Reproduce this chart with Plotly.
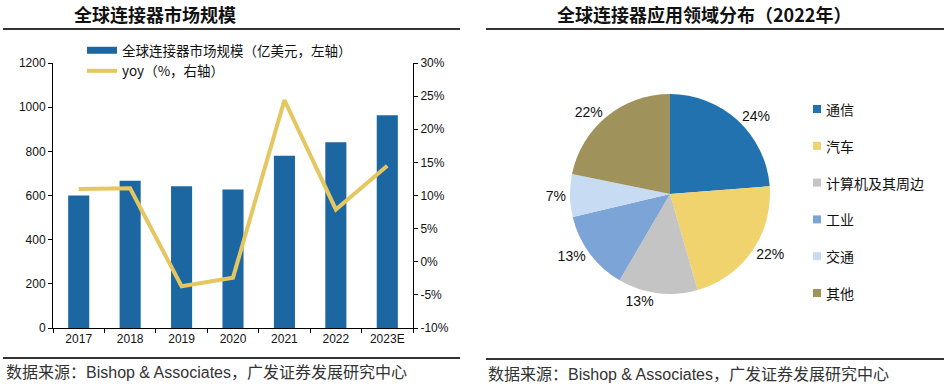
import plotly.graph_objects as go

# ---- data ----
years = ["2017", "2018", "2019", "2020", "2021", "2022", "2023E"]
market_size = [600, 667, 642, 627, 780, 841, 963]          # 亿美元
yoy = [11.0, 11.1, -3.7, -2.4, 24.4, 7.9, 14.5]             # %
left_ticks = [0, 200, 400, 600, 800, 1000, 1200]
right_ticks = [-10, -5, 0, 5, 10, 15, 20, 25, 30]
right_tick_text = ["-10%", "-5%", "0%", "5%", "10%", "15%", "20%", "25%", "30%"]

pie_labels = ["通信", "汽车", "计算机及其周边", "工业", "交通", "其他"]
pie_values = [24, 22, 13, 13, 7, 22]
pie_colors = ["#2172AF", "#F0D36C", "#C4C4C4", "#7DA4D6", "#C7DCF3", "#A0925B"]

left_title = "全球连接器市场规模"
right_title = "全球连接器应用领域分布（2022年）"
source = "数据来源：Bishop & Associates，广发证券发展研究中心"
bar_name = "全球连接器市场规模（亿美元，左轴）"
line_name = "yoy（%，右轴）"

BAR_C = "#1C67A2"
LINE_C = "#E5C761"
FONT = "Liberation Sans, Arial, Noto Sans CJK SC, sans-serif"
CJK = "Noto Sans CJK SC, Liberation Sans, sans-serif"

W, H = 945, 384
def px_x(x): return x / W
def px_y(y): return 1 - y / H

fig = go.Figure()

fig.add_trace(go.Bar(x=years, y=market_size, marker_color=BAR_C, marker_line_width=0,
                     showlegend=False, xaxis="x", yaxis="y"))
fig.add_trace(go.Scatter(x=years, y=yoy, mode="lines", line=dict(color=LINE_C, width=4),
                         showlegend=False, xaxis="x", yaxis="y2"))
# legend entries
fig.add_trace(go.Scatter(x=[None], y=[None], mode="lines", name=bar_name,
                         line=dict(color=BAR_C, width=7), xaxis="x", yaxis="y"))
fig.add_trace(go.Scatter(x=[None], y=[None], mode="lines", name=line_name,
                         line=dict(color=LINE_C, width=4), xaxis="x", yaxis="y2"))

fig.add_trace(go.Pie(labels=pie_labels, values=pie_values, sort=False, direction="clockwise",
                     rotation=0, marker=dict(colors=pie_colors, line=dict(width=0)),
                     texttemplate="%{value}%", textposition="outside",
                     textfont=dict(size=14, color="#111", family=FONT),
                     showlegend=False, hoverinfo="skip", automargin=False,
                     domain=dict(x=[px_x(570), px_x(770)], y=[px_y(294), px_y(94)])))

fig.update_layout(
    width=W, height=H, margin=dict(l=0, r=0, t=0, b=0, autoexpand=False),
    paper_bgcolor="white", plot_bgcolor="white",
    font=dict(family=FONT, size=12, color="#111"),
    bargap=0.59,
    xaxis=dict(domain=[px_x(53), px_x(413)], type="category", showline=True, linecolor="#000",
               linewidth=1, ticks="outside", tickson="boundaries", ticklen=4, tickcolor="#000",
               showgrid=False, tickfont=dict(size=12), anchor="y", automargin=False),
    yaxis=dict(domain=[px_y(328), px_y(63)], range=[0, 1200], tickvals=left_ticks,
               showline=True, linecolor="#000", linewidth=1, ticks="outside", ticklen=4,
               tickcolor="#000", showgrid=False, zeroline=False, tickfont=dict(size=12),
               automargin=False),
    yaxis2=dict(overlaying="y", side="right", range=[-10, 30], tickvals=right_ticks,
                ticktext=right_tick_text, tickmode="array",
                showline=True, linecolor="#000", linewidth=1, ticks="outside",
                ticklen=4, tickcolor="#000", showgrid=False, zeroline=False,
                tickfont=dict(size=12), anchor="x", automargin=False),
    legend=dict(x=px_x(82), y=px_y(35), xanchor="left", yanchor="top",
                bgcolor="rgba(0,0,0,0)", font=dict(family=CJK, size=13.5, color="#111"),
                tracegroupgap=0, itemwidth=30),
)

annotations = [
    dict(text=f"<b>{left_title}</b>", x=px_x(155), y=px_y(14), xref="paper", yref="paper",
         xanchor="center", yanchor="middle",
         showarrow=False, font=dict(family=CJK, size=18, color="#111")),
    dict(text=f"<b>{right_title}</b>", x=px_x(704), y=px_y(14), xref="paper", yref="paper",
         xanchor="center", yanchor="middle",
         showarrow=False, font=dict(family=CJK, size=18, color="#111")),
    dict(text=source, x=px_x(4), y=px_y(372), xref="paper", yref="paper", xanchor="left",
         yanchor="middle", showarrow=False, font=dict(family=FONT, size=16, color="#333")),
    dict(text=source, x=px_x(486), y=px_y(374), xref="paper", yref="paper", xanchor="left",
         yanchor="middle", showarrow=False, font=dict(family=FONT, size=16, color="#333")),
]
shapes = [
    dict(type="line", xref="paper", yref="paper", x0=px_x(3), x1=px_x(460), y0=px_y(29), y1=px_y(29),
         line=dict(color="#333", width=2)),
    dict(type="line", xref="paper", yref="paper", x0=px_x(486), x1=px_x(944), y0=px_y(29), y1=px_y(29),
         line=dict(color="#333", width=2)),
    dict(type="line", xref="paper", yref="paper", x0=px_x(3), x1=px_x(460), y0=px_y(358), y1=px_y(358),
         line=dict(color="#333", width=2)),
    dict(type="line", xref="paper", yref="paper", x0=px_x(486), x1=px_x(944), y0=px_y(359), y1=px_y(359),
         line=dict(color="#333", width=2)),
]
# pie legend
for i, (lab, col) in enumerate(zip(pie_labels, pie_colors)):
    yc = 109 + i * 36.8
    shapes.append(dict(type="rect", xref="paper", yref="paper", x0=px_x(813), x1=px_x(821),
                       y0=px_y(yc + 4), y1=px_y(yc - 4), fillcolor=col, line=dict(width=0)))
    annotations.append(dict(text=lab, x=px_x(824), y=px_y(yc), xref="paper", yref="paper",
                            xanchor="left", yanchor="middle", showarrow=False,
                            font=dict(family=CJK, size=14, color="#111")))

fig.update_layout(annotations=annotations, shapes=shapes)
fig.write_html("out.html", config={"displayModeBar": False},
               post_script="document.body.style.margin='0';document.body.style.padding='0';")
